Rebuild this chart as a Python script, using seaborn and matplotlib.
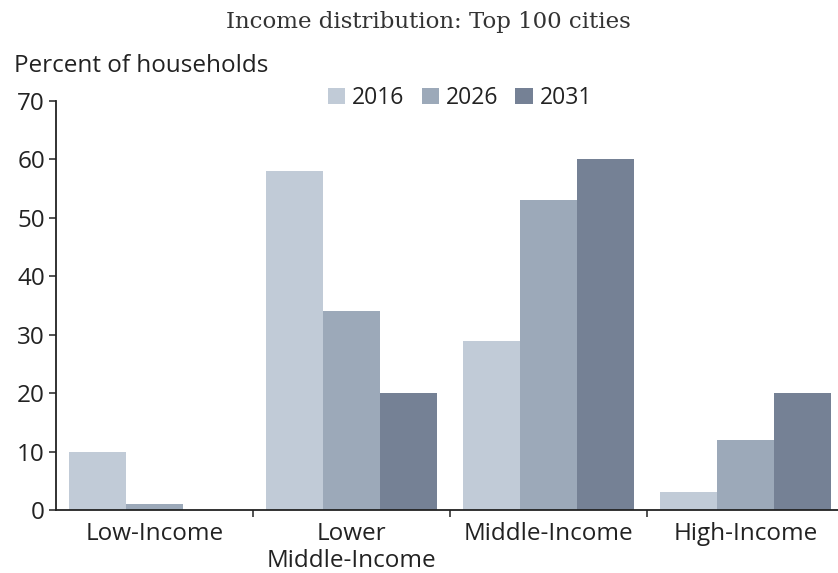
import matplotlib
matplotlib.use("Agg")
import matplotlib.pyplot as plt
import seaborn as sns
import pandas as pd
from matplotlib.ticker import FixedLocator

categories = ["Low-Income", "Lower\nMiddle-Income", "Middle-Income", "High-Income"]
years = ["2016", "2026", "2031"]
values_2016 = [10, 58, 29, 3]
values_2026 = [1, 34, 53, 12]
values_2031 = [0, 20, 60, 20]
y_ticks = [0, 10, 20, 30, 40, 50, 60, 70]

colors = ["#c1cbd7", "#9ca9b9", "#758195"]

df = pd.DataFrame({
    "category": categories * 3,
    "year": [years[0]] * 4 + [years[1]] * 4 + [years[2]] * 4,
    "value": values_2016 + values_2026 + values_2031,
})

sns.set_theme(style="white")
plt.rcParams["font.family"] = ["Open Sans", "DejaVu Sans"]

W, H = 838, 573
fig = plt.figure(figsize=(W / 100, H / 100), dpi=100)
# axis runs a little past the right edge of the canvas
ax = fig.add_axes([56 / W, 1 - 510 / H, 788 / W, (510 - 101) / H])

sns.barplot(data=df, x="category", y="value", hue="year", order=categories,
            hue_order=years, palette=colors, width=0.868, gap=0,
            saturation=1, linewidth=0, ax=ax, legend=True)

ax.set_xlim(-0.5, 3.5)
ax.set_ylim(0, 70)
ax.set_yticks(y_ticks)
ax.set_xlabel("")
ax.set_ylabel("")

for side in ["top", "right"]:
    ax.spines[side].set_visible(False)
for side in ["left", "bottom"]:
    ax.spines[side].set_color("#222222")
    ax.spines[side].set_linewidth(1.3)

ax.tick_params(axis="y", which="major", direction="out", length=5, width=1.1,
               color="#222222", pad=3, labelsize=17.5, labelcolor="#222222", left=True)
ax.tick_params(axis="x", which="major", length=0, pad=9, labelsize=17.5,
               labelcolor="#222222")
ax.xaxis.set_minor_locator(FixedLocator([0.5, 1.5, 2.5]))
ax.tick_params(axis="x", which="minor", direction="out", length=5, width=1.1,
               color="#222222", bottom=True)
for lbl in ax.get_xticklabels():
    lbl.set_linespacing(1.12)

handles, labels = ax.get_legend_handles_labels()
ax.legend_.remove()
fig.legend(handles, labels, loc="center", bbox_to_anchor=(460 / W, 1 - 98 / H),
           ncol=3, frameon=False, fontsize=16.5, handlelength=0.75, handleheight=0.75,
           handletextpad=0.3, columnspacing=0.75, labelcolor="#222222")

fig.text(14 / W, 1 - 66 / H, "Percent of households", ha="left", va="center",
         fontsize=17.5, color="#222222")
fig.text(428 / W, 1 - 22 / H, "Income distribution: Top 100 cities",
         ha="center", va="center", fontsize=16.5, color="#333333",
         family=["DejaVu Serif"])

fig.savefig("out.png", dpi=100)
